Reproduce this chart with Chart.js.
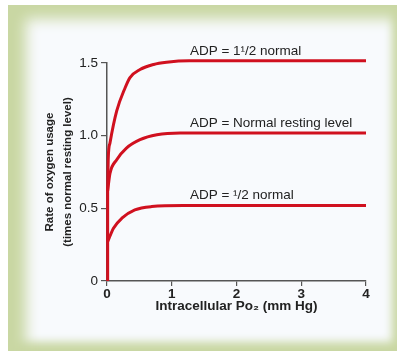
<!DOCTYPE html>
<html>
<head>
<meta charset="utf-8">
<script src="https://cdn.jsdelivr.net/npm/chart.js@4"></script>
<style>
  body { margin: 0; background: #fff; }
  #wrap { position: relative; width: 397px; height: 351px; overflow: hidden; }
  #frame {
    position: absolute; left: 8px; top: 5px; width: 389px; height: 346px;
    background: #f8fafd;
    box-shadow: inset 22px 18px 14px -4px #c9d7a3, inset -8px -12px 8px -3px #c9d7a3;
  }
  canvas { position: absolute; left: 0; top: 0; }
</style>
</head>
<body>
<div id="wrap">
  <div id="frame"></div>
  <canvas id="grafica" width="397" height="351"></canvas>
</div>
<script>
// datos (x = Po2 mm Hg, y = uso de oxigeno)
    const xHigh = [0.01, 0.02, 0.046, 0.15, 0.28, 0.355, 0.51, 0.72, 0.92, 1.27, 4];
    const yHigh = [0.62, 0.85, 0.95, 1.17, 1.33, 1.40, 1.455, 1.49, 1.505, 1.515, 1.515];

    const xNormal = [0.01, 0.046, 0.15, 0.30, 0.51, 0.77, 1.13, 4];
    const yNormal = [0.62, 0.74, 0.834, 0.914, 0.972, 1.006, 1.018, 1.018];

    const xHalf = [0.01, 0.1, 0.23, 0.43, 0.69, 1.18, 4];
    const yHalf = [0.27, 0.363, 0.432, 0.489, 0.512, 0.519, 0.519];

    // tramo vertical sobre el eje
    const xVert = [0.01, 0.01];
    const yVert = [0, 0.62];

    const xTicks = [0, 1, 2, 3, 4];
    const yTicks = [0, 0.5, 1.0, 1.5];

    const labelText = ["ADP = 1\u00B9/2 normal", "ADP = Normal resting level", "ADP = \u00B9/2 normal"];
    const labelX = [1.28, 1.28, 1.28];
    const labelY = [1.515, 1.018, 0.519];

    const rojo = "#d0101f";
    const fuente = '"Liberation Sans", Arial, sans-serif';

//Une x,y en puntos
    function pares(xs, ys) {
        return xs.map((x, i) => ({ x: x, y: ys[i] }));
    }

    function serie(xs, ys) {
        return {
            data: pares(xs, ys),
            showLine: true,
            borderColor: rojo,
            borderWidth: 3,
            pointRadius: 0,
            cubicInterpolationMode: 'monotone',
            clip: false
        };
    }

//Textos de cada curva
    const etiquetas = {
        id: 'etiquetas',
        afterDatasetsDraw(chart) {
            const ctx = chart.ctx;
            const sx = chart.scales.x, sy = chart.scales.y;
            ctx.save();
            ctx.font = '13.5px ' + fuente;
            ctx.fillStyle = '#222';
            ctx.textAlign = 'left';
            ctx.textBaseline = 'middle';
            for (let i = 0; i < labelText.length; i++) {
                ctx.fillText(labelText[i], sx.getPixelForValue(labelX[i]), sy.getPixelForValue(labelY[i]) - 10);
            }
            ctx.restore();
        }
    };

    const ctx = document.getElementById('grafica').getContext('2d');
    let chart = new Chart(ctx, {
        type: 'scatter',
        data: {
            datasets: [serie(xVert, yVert), serie(xHigh, yHigh), serie(xNormal, yNormal), serie(xHalf, yHalf)]
        },
        options: {
            responsive: false,
            animation: false,
            layout: { padding: { left: 40, top: 63, right: 31, bottom: 33 } },
            plugins: { legend: { display: false }, tooltip: { enabled: false } },
            scales: {
                x: {
                    type: 'linear', min: 0, max: 4,
                    afterBuildTicks: (s) => { s.ticks = xTicks.map(v => ({ value: v })); },
                    afterFit: (s) => { s.height = 37; },
                    grid: { drawOnChartArea: false, drawTicks: true, tickLength: 5, color: '#555', lineWidth: 1.2 },
                    border: { display: true, color: '#555', width: 1.5 },
                    ticks: { padding: 0, color: '#222', font: { family: fuente, size: 13.5, weight: 'bold' } },
                    title: {
                        display: true, text: 'Intracellular Po\u2082 (mm Hg)', color: '#222',
                        font: { family: fuente, size: 13.5, weight: 'bold' },
                        padding: { top: 0, bottom: 4 }
                    }
                },
                y: {
                    type: 'linear', min: 0, max: 1.5,
                    afterBuildTicks: (s) => { s.ticks = yTicks.map(v => ({ value: v })); },
                    afterFit: (s) => { s.width = 67; },
                    grid: { drawOnChartArea: false, drawTicks: true, tickLength: 6, color: '#555', lineWidth: 1.2 },
                    border: { display: true, color: '#555', width: 1.5 },
                    ticks: {
                        padding: 3, color: '#222',
                        font: { family: fuente, size: 13.5 },
                        callback: (v) => v === 0 ? '0' : v.toFixed(1)
                    },
                    title: {
                        display: true, text: ['Rate of oxygen usage', '(times normal resting level)'], color: '#222',
                        font: { family: fuente, size: 11.5, weight: 'bold', lineHeight: 1.55 },
                        padding: { top: 1, bottom: 0 }
                    }
                }
            }
        },
        plugins: [etiquetas]
    });
</script>
</body>
</html>
